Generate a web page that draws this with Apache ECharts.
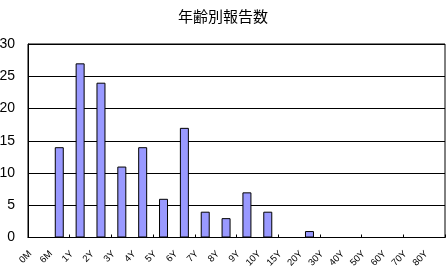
<!DOCTYPE html>
<html>
<head>
<meta charset="utf-8">
<script src="https://cdn.jsdelivr.net/npm/echarts@6/dist/echarts.min.js"></script>
<style>html,body{margin:0;padding:0;background:#fff;}#c{width:446px;height:267px;}</style>
</head>
<body>
<div id="c"></div>
<script>
var titleText = '年齢別報告数';
var categories = ['0M','6M','1Y','2Y','3Y','4Y','5Y','6Y','7Y','8Y','9Y','10Y','15Y','20Y','30Y','40Y','50Y','60Y','70Y','80Y'];
var counts = [0,14,27,24,11,14,6,17,4,3,7,4,0,1,0,0,0,0,0,0];
var yTicks = [0,5,10,15,20,25,30];

var chart = echarts.init(document.getElementById('c'), null, {renderer:'canvas'});
chart.setOption({
  animation:false,
  backgroundColor:'#fff',
  title:{
    text:titleText, left:'center', top:3,
    textStyle:{fontFamily:'Noto Sans CJK JP', fontSize:15, fontWeight:'normal', color:'#000', lineHeight:16}
  },
  grid:{left:28, right:1, top:44, bottom:29.5, show:true, borderColor:'#000', borderWidth:1,
        containLabel:false, outerBoundsMode:'none'},
  xAxis:[{
    type:'category', data:categories, boundaryGap:true,
    axisLine:{show:true, lineStyle:{color:'#000', width:1}},
    axisTick:{show:true, inside:true, length:3, lineStyle:{color:'#000'}},
    axisLabel:{show:false},
    splitLine:{show:false}
  },{
    type:'category', data:categories.concat(['']), boundaryGap:false, position:'bottom',
    axisLine:{show:false}, axisTick:{show:false}, splitLine:{show:false},
    axisLabel:{show:true, interval:0, rotate:45, margin:17, padding:[0,-3,0,0], fontSize:9.5, color:'#000', fontFamily:'Liberation Sans'}
  }],
  yAxis:{
    type:'value', min:yTicks[0], max:yTicks[yTicks.length-1], interval:5,
    axisLine:{show:true, lineStyle:{color:'#000'}},
    axisTick:{show:false},
    axisLabel:{margin:13, fontSize:14, color:'#000', fontFamily:'Liberation Sans'},
    splitLine:{show:true, lineStyle:{color:'#000', width:1}}
  },
  series:[{
    type:'bar', xAxisIndex:0, barWidth:9,
    data:counts.map(function(v){ return v === 0 ? '-' : v; }),
    itemStyle:{color:'#9999FF', borderColor:'#000', borderWidth:1}
  }]
});
</script>
</body>
</html>
